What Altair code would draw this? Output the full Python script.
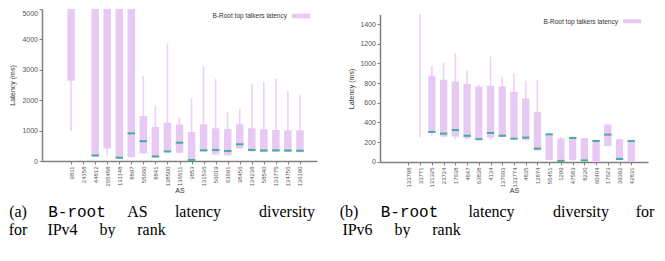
import altair as alt
import pandas as pd

# ---------------- data ----------------
as_v4 = ["9811", "24158", "44812", "265488", "131148", "8897", "55660", "8841", "138500", "136511",
         "3853", "131536", "56019", "63691", "38456", "134238", "58540", "133775", "134756", "136190"]
v4_low = [990, 5500, 130, 180, 50, 110, 230, 100, 290, 250, 0, 300, 200, 170, 400, 300, 280, 280, 280, 280]
v4_q1 = [2640, 6000, 150, 410, 70, 130, 255, 115, 300, 270, 10, 320, 220, 185, 415, 320, 300, 300, 300, 290]
v4_med = [5600, 7000, 180, 5500, 110, 910, 650, 150, 310, 600, 35, 350, 360, 330, 550, 365, 345, 350, 345, 335]
v4_q3 = [6000, 8000, 6000, 6000, 6000, 6000, 1480, 1120, 1255, 1200, 955, 1205, 1075, 1050, 1210, 1075, 1045, 1020, 1010, 1010]
v4_high = [7000, 9000, 7000, 7000, 7000, 7000, 2800, 1810, 3860, 1425, 2085, 3125, 2700, 1600, 1710, 2525, 2600, 2695, 2305, 2165]

as_v6 = ["133798", "33771", "131325", "23724", "17638", "4847", "63838", "4134", "137693", "133774",
         "4835", "12874", "55451", "1299", "47583", "8220", "60404", "17623", "39392", "42831"]
v6_low = [1600, 245, 270, 250, 228, 230, 226, 222, 245, 225, 211, 110, 15, 5, 12, 8, 0, 155, 12, 0]
v6_q1 = [1700, 1600, 295, 255, 255, 237, 228, 245, 252, 228, 225, 116, 17, 7, 15, 10, 0, 160, 15, 3]
v6_med = [1800, 1700, 303, 286, 322, 264, 229, 293, 264, 234, 245, 133, 279, 8, 242, 13, 211, 276, 28, 211]
v6_q3 = [1900, 1800, 875, 834, 817, 790, 763, 773, 766, 712, 644, 504, 282, 235, 252, 240, 218, 378, 228, 211]
v6_high = [2000, 2000, 977, 1003, 1107, 926, 780, 1069, 865, 899, 824, 835, 285, 250, 255, 242, 220, 385, 232, 213]

series_name = "B-Root top talkers latency"
y_title = "Latency (ms)"
x_title = "AS"

# caption words: (text, page-x centre, line, monospace)
cap_a = [("(a)", 18, 0, False), ("B-root", 77, 0, True), ("AS", 137.5, 0, False),
         ("latency", 198, 0, False), ("diversity", 287, 0, False),
         ("for", 18, 1, False), ("IPv4", 62.5, 1, False), ("by", 107.5, 1, False), ("rank", 151.5, 1, False)]
cap_b = [("(b)", 349, 0, False), ("B-root", 409.5, 0, True), ("latency", 491.5, 0, False),
         ("diversity", 581, 0, False), ("for", 645, 0, False),
         ("IPv6", 357.5, 1, False), ("by", 402.5, 1, False), ("rank", 446.5, 1, False)]

BOX = "#E8C9F4"
WHISK = "#ECD2F6"
MED = "#009E73"
AXC = "#808080"
LABC = "#555555"


def panel(names, lo, q1, med, q3, hi, top, yrange, height, width, yvals,
          ytx, yty, xty, boxw, origin_x, legend_pos, captions, top_label_flush):
    df = pd.DataFrame({"i": list(range(len(names))), "AS": names, "lo": lo, "q1": q1,
                       "med": med, "q3": q3, "hi": hi})
    lab = "[" + ",".join("'%s'" % n for n in names) + "][datum.value]"
    xax = alt.Axis(values=list(range(len(names))), labelExpr=lab, labelAngle=-90,
                   labelFontSize=6, labelFont="Liberation Sans", labelColor=LABC,
                   labelPadding=2, labelFlush=False, labelOverlap=False,
                   tickSize=3, tickColor=AXC, domainColor=AXC, domainWidth=1.5,
                   grid=False, title=x_title, titleFontSize=7, titleFont="Liberation Sans",
                   titleFontWeight="normal", titleColor="#333333",
                   titleX=width / 2, titleY=xty, titleBaseline="middle")
    yax_kw = dict(values=yvals, format="d", labelFontSize=7, labelFont="Liberation Sans",
                  labelColor=LABC, labelPadding=1.5, tickSize=3, tickColor=AXC,
                  domainColor=AXC, domainWidth=1.5,
                  grid=False, title=y_title, titleFontSize=7, titleFont="Liberation Sans",
                  titleFontWeight="normal", titleColor="#333333", titleX=ytx, titleY=yty)
    if top_label_flush:
        yax_kw["labelBaseline"] = {"condition": {"test": "datum.value == %d" % top, "value": "top"},
                                   "value": "middle"}
    yax = alt.Axis(**yax_kw)
    xs = alt.Scale(domain=[-2, 20], nice=False, zero=False)
    ys = alt.Scale(domain=[0, top], range=yrange, clamp=True, nice=False, zero=False)
    xe = alt.X("i:Q", scale=xs, axis=xax)

    base = alt.Chart(df)
    whisk = base.transform_filter("datum.lo < %d" % top).mark_rule(
        color=WHISK, strokeWidth=1.6).encode(
        x=xe, y=alt.Y("lo:Q", scale=ys, axis=yax), y2="hi:Q")
    boxes = base.transform_filter("datum.q1 < %d" % top).mark_bar(
        color=BOX, size=boxw).encode(
        x=xe, y=alt.Y("q1:Q", scale=ys, axis=yax), y2="q3:Q")
    meds = base.transform_filter("datum.med < %d" % top).mark_tick(
        color=MED, orient="horizontal", thickness=2, size=boxw).encode(
        x=xe, y=alt.Y("med:Q", scale=ys, axis=yax))

    one = pd.DataFrame({"k": [0]})
    lx, ly, sx0, sx1, sy0, sy1 = legend_pos
    leg_t = alt.Chart(one).mark_text(text=series_name, align="right", baseline="middle",
                                     fontSize=6.5, font="Liberation Sans", color="#333333").encode(
        x=alt.value(lx), y=alt.value(ly))
    leg_r = alt.Chart(one).mark_rect(color=BOX).encode(
        x=alt.value(sx0), x2=alt.value(sx1), y=alt.value(sy0), y2=alt.value(sy1))

    layers = [whisk, boxes, meds, leg_t, leg_r]
    for word, px, line, mono in captions:
        layers.append(alt.Chart(one).mark_text(
            text=word, align="center", baseline="alphabetic",
            font="Liberation Mono" if mono else "Liberation Serif",
            fontSize=16, color="black").encode(
            x=alt.value(px - origin_x), y=alt.value(208 if line == 0 else 226)))
    return alt.layer(*layers).properties(width=width, height=height)


left = panel(as_v4, v4_low, v4_q1, v4_med, v4_q3, v4_high, 5000, [152, 0], 152, 275,
             list(range(0, 5001, 1000)), -27, 76, 29, 7.5, 42,
             (245, 7, 250, 268, 4.7, 9.3), cap_a, True)
right = panel(as_v6, v6_low, v6_q1, v6_med, v6_q3, v6_high, 1500, [152.7, 5.3], 153, 268,
              list(range(0, 1401, 200)), -26, 79.5, 28, 7.3, 380,
              (238, 12.7, 243, 261, 10.3, 14.3), cap_b, False)

chart = alt.hconcat(left, right, spacing=63, bounds="flush").properties(
    padding=0).configure_view(stroke=None)

chart.save("out.html", embed_options={"renderer": "svg", "actions": False})
